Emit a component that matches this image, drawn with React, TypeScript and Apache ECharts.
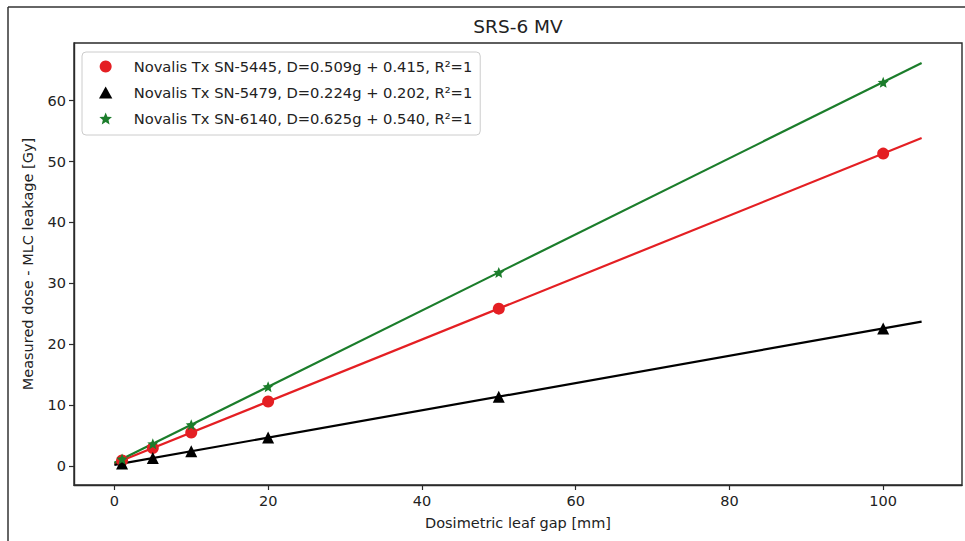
import React, { useEffect, useRef } from 'react';
import * as echarts from 'echarts';

// Dosimetric leaf gap [mm] of the measured points
const gaps = [1, 5, 10, 20, 50, 100];
// Measured dose - MLC leakage [Gy]
const sn5445 = [0.93, 2.96, 5.5, 10.6, 25.85, 51.3];
const sn5479 = [0.43, 1.32, 2.44, 4.68, 11.4, 22.6];
const sn6140 = [1.17, 3.67, 6.79, 13.04, 31.8, 63.0];
// fitted lines, end points
const fitX = [0, 105];
const fit5445 = [0.415, 53.86];
const fit5479 = [0.202, 23.72];
const fit6140 = [0.54, 66.17];

const names = [
  'Novalis Tx SN-5445, D=0.509g + 0.415, R²=1',
  'Novalis Tx SN-5479, D=0.224g + 0.202, R²=1',
  'Novalis Tx SN-6140, D=0.625g + 0.540, R²=1',
];
const xTicks = [0, 20, 40, 60, 80, 100];
const yTicks = [0, 10, 20, 30, 40, 50, 60];

const STAR =
  'path://M0,-10L2.645,-3.64L9.51,-3.09L4.28,1.39L5.88,8.09L0,4.5L-5.88,8.09L-4.28,1.39L-9.51,-3.09L-2.645,-3.64Z';
const TRI = 'path://M0,-10L10,8L-10,8Z';

const RED = '#e41f23';
const BLACK = '#000000';
const GREEN = '#1b7d2b';
const FONT = 'DejaVu Sans';
const TXT = '#222222';

export default function App() {
  const ref = useRef<HTMLDivElement>(null);
  useEffect(() => {
    if (!ref.current) return;
    const chart = echarts.init(ref.current, undefined, { renderer: 'svg' });
    const sets = [
      { name: names[0], pts: sn5445, fit: fit5445, color: RED, symbol: 'circle', size: 12 },
      { name: names[1], pts: sn5479, fit: fit5479, color: BLACK, symbol: 'triangle', size: 12 },
      { name: names[2], pts: sn6140, fit: fit6140, color: GREEN, symbol: STAR, size: 11 },
    ];
    const series: any[] = [];
    sets.forEach((s) => {
      series.push({
        type: 'line',
        name: s.name + ' fit',
        data: fitX.map((x, i) => [x, s.fit[i]]),
        symbol: 'none',
        lineStyle: { color: s.color, width: 2.2 },
        itemStyle: { color: s.color },
        z: 2,
        silent: true,
      });
    });
    sets.forEach((s) => {
      series.push({
        type: 'scatter',
        name: s.name,
        data: gaps.map((x, i) => [x, s.pts[i]]),
        symbol: s.symbol,
        symbolSize: s.size,
        itemStyle: { color: s.color, opacity: 1 },
        z: 3,
      });
    });
    chart.setOption({
      animation: false,
      backgroundColor: '#ffffff',
      grid: {
        left: 74,
        right: 3,
        top: 43,
        bottom: 56,
        show: true,
        borderColor: '#2a2a2a',
        borderWidth: 1.4,
        backgroundColor: 'transparent',
      },
      legend: {
        orient: 'vertical',
        left: 82,
        top: 52,
        data: [
          { name: names[0], icon: 'circle' },
          { name: names[1], icon: TRI },
          { name: names[2], icon: STAR },
        ],
        symbolKeepAspect: true,
        itemWidth: 46,
        itemHeight: 12,
        itemGap: 11,
        padding: [7, 8, 9, 17],
        borderColor: '#cccccc',
        borderWidth: 1,
        borderRadius: 4,
        backgroundColor: 'rgba(255,255,255,0.8)',
        textStyle: { fontFamily: FONT, fontSize: 14.7, color: TXT },
        selectedMode: false,
      },
      xAxis: {
        type: 'value',
        min: -5.25,
        max: 110.25,
        name: 'Dosimetric leaf gap [mm]',
        nameLocation: 'middle',
        nameGap: 30,
        nameTextStyle: { fontFamily: FONT, fontSize: 14.5, color: TXT },
        axisLine: { show: true, onZero: false, lineStyle: { color: '#2a2a2a', width: 1.4 } },
        axisTick: { show: true, length: 5, customValues: xTicks, lineStyle: { color: '#2a2a2a', width: 1.2 } },
        axisLabel: { customValues: xTicks, margin: 8, fontFamily: FONT, fontSize: 14.5, color: TXT },
        splitLine: { show: false },
      },
      yAxis: {
        type: 'value',
        min: -3.1,
        max: 69.46,
        name: 'Measured dose - MLC leakage [Gy]',
        nameLocation: 'middle',
        nameGap: 39,
        nameRotate: 90,
        nameTextStyle: { fontFamily: FONT, fontSize: 14.5, color: TXT },
        axisLine: { show: true, onZero: false, lineStyle: { color: '#2a2a2a', width: 1.4 } },
        axisTick: { show: true, length: 5, customValues: yTicks, lineStyle: { color: '#2a2a2a', width: 1.2 } },
        axisLabel: { customValues: yTicks, margin: 8, fontFamily: FONT, fontSize: 14.5, color: TXT },
        splitLine: { show: false },
      },
      graphic: [
        {
          type: 'text',
          x: 518,
          y: 26,
          style: {
            text: 'SRS-6 MV',
            font: '18.5px "DejaVu Sans"',
            fill: TXT,
            textAlign: 'center',
            textVerticalAlign: 'middle',
          },
        },
        { type: 'line', shape: { x1: 8, y1: 7, x2: 965, y2: 7 }, style: { stroke: '#333', lineWidth: 1.5 } },
        { type: 'line', shape: { x1: 8, y1: 7, x2: 8, y2: 541 }, style: { stroke: '#333', lineWidth: 1.5 } },
      ],
      series,
    });
    return () => chart.dispose();
  }, []);
  return (
    <div
      ref={ref}
      style={{ position: 'fixed', left: 0, top: 0, width: 965, height: 541, background: '#fff' }}
    />
  );
}
